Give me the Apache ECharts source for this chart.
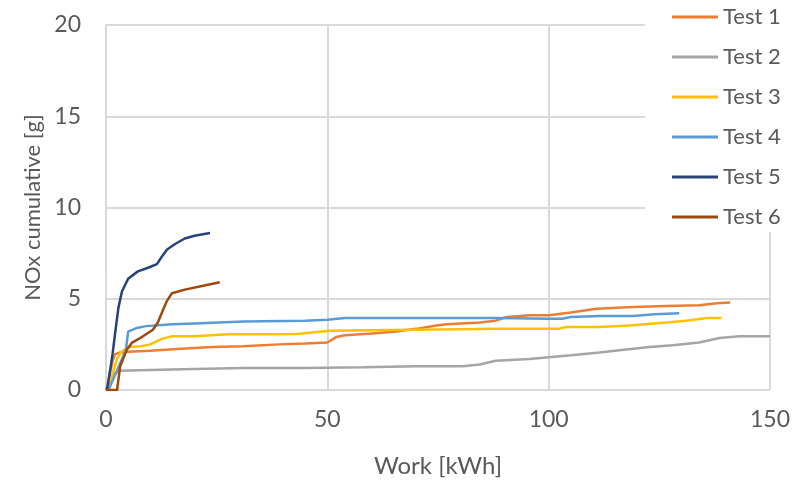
<!DOCTYPE html>
<html>
<head>
<meta charset="utf-8">
<script src="https://cdn.jsdelivr.net/npm/echarts@6/dist/echarts.min.js"></script>
<style>
html,body{margin:0;padding:0;background:#fff;}
#chart{width:804px;height:483px;}
</style>
</head>
<body>
<div id="chart"></div>
<script>
const seriesNames = ['Test 1','Test 2','Test 3','Test 4','Test 5','Test 6'];
const seriesColors = ['#ED7D31','#A5A5A5','#FFC000','#5B9BD5','#264478','#9E480E'];
const xTicks = [0, 50, 100, 150];
const yTicks = [0, 5, 10, 15, 20];

const test1 = [[0,0],[0.5,0.3],[1,1.0],[1.5,1.6],[2,1.95],[3,2.05],[5,2.1],[10,2.15],[16,2.25],[24,2.35],[31,2.4],[39,2.5],[45,2.55],[50,2.6],[52,2.9],[54,3.0],[60,3.1],[65.6,3.2],[70,3.35],[75,3.55],[77,3.6],[84.4,3.7],[88,3.8],[90.5,4.0],[95.7,4.1],[100,4.1],[105,4.25],[110.8,4.45],[119,4.55],[126.6,4.6],[134,4.65],[138,4.75],[141,4.8]];
const test2 = [[0,0],[1,0.3],[2,0.9],[3,1.05],[10,1.1],[20,1.15],[31,1.2],[45,1.2],[58,1.25],[70,1.3],[80.6,1.3],[84.4,1.4],[88,1.6],[95.7,1.7],[100,1.8],[105,1.9],[111.5,2.05],[117,2.2],[122.8,2.35],[128,2.45],[134,2.6],[138.6,2.85],[143,2.95],[150,2.95]];
const test3 = [[0.8,0],[1.5,0.9],[2.5,1.7],[3.5,2.1],[5,2.35],[8,2.4],[10,2.5],[12.6,2.8],[15,2.95],[20,2.95],[27.5,3.05],[35,3.05],[43,3.07],[49,3.2],[50.5,3.25],[60,3.28],[69,3.3],[80,3.33],[88,3.35],[102,3.35],[104,3.45],[111.5,3.45],[119,3.55],[126.6,3.7],[131,3.8],[135.7,3.95],[139,3.95]];
const test4 = [[0.5,0],[2,0.8],[4.5,2.2],[5,3.2],[7,3.4],[9,3.5],[15,3.6],[20,3.65],[31,3.75],[45,3.8],[50,3.85],[54,3.95],[70,3.95],[88,3.95],[100,3.9],[103,3.9],[105,4.0],[111.5,4.05],[119,4.05],[124,4.15],[129.5,4.2]];
const test5 = [[0.2,0],[1,1.2],[1.5,2.0],[2,3.0],[2.8,4.5],[3.6,5.4],[5,6.1],[7.2,6.5],[9.5,6.7],[11.5,6.9],[12.6,7.3],[13.8,7.7],[15.6,8.0],[17.8,8.3],[20,8.45],[23.5,8.6]];
const test6 = [[0,0],[2.5,0],[3.2,1.3],[4.7,2.2],[5.9,2.6],[8.1,2.9],[10.6,3.3],[11.7,3.7],[12.9,4.4],[13.8,4.9],[14.9,5.3],[17.8,5.5],[21.7,5.7],[25.7,5.9]];
const allData = [test1, test2, test3, test4, test5, test6];

const FONT = 'Lato, "Open Sans", sans-serif';
const TXT = '#595959';
const GRID = '#D9D9D9';

const chart = echarts.init(document.getElementById('chart'), null, {renderer:'canvas'});
chart.setOption({
  animation: false,
  backgroundColor: '#fff',
  textStyle: {fontFamily: FONT},
  grid: {left:106, right:34, top:25, bottom:92},
  xAxis: {
    type:'value', min:xTicks[0], max:xTicks[xTicks.length-1], interval:50,
    name:'Work [kWh]', nameLocation:'middle', nameGap:64,
    nameTextStyle:{color:TXT, fontSize:24, fontFamily:FONT},
    axisLine:{show:false}, axisTick:{show:false},
    axisLabel:{color:TXT, fontSize:23, margin:18, fontFamily:FONT},
    splitLine:{show:true, lineStyle:{color:GRID, width:2}}
  },
  yAxis: {
    type:'value', min:yTicks[0], max:yTicks[yTicks.length-1], interval:5,
    name:'NOx cumulative [g]', nameLocation:'middle', nameGap:62, nameRotate:90,
    nameTextStyle:{color:TXT, fontSize:22, fontFamily:FONT},
    axisLine:{show:true, lineStyle:{color:GRID, width:2}}, axisTick:{show:false},
    axisLabel:{color:TXT, fontSize:23, margin:25, fontFamily:FONT},
    splitLine:{show:true, lineStyle:{color:GRID, width:2}}
  },
  legend: {
    orient:'vertical', left:645, top:0,
    padding:[6, 20, 4, 27],
    backgroundColor:'#fff',
    icon:'rect', itemWidth:46, itemHeight:3, itemGap:18,
    textStyle:{color:TXT, fontSize:22, lineHeight:22, fontFamily:FONT},
    data: seriesNames
  },
  series: seriesNames.map((n,i)=>({
    name:n, type:'line', data:allData[i], showSymbol:false, symbol:'none',
    lineStyle:{color:seriesColors[i], width:2.5}, itemStyle:{color:seriesColors[i]},
    z: 2+i
  }))
});
</script>
</body>
</html>
